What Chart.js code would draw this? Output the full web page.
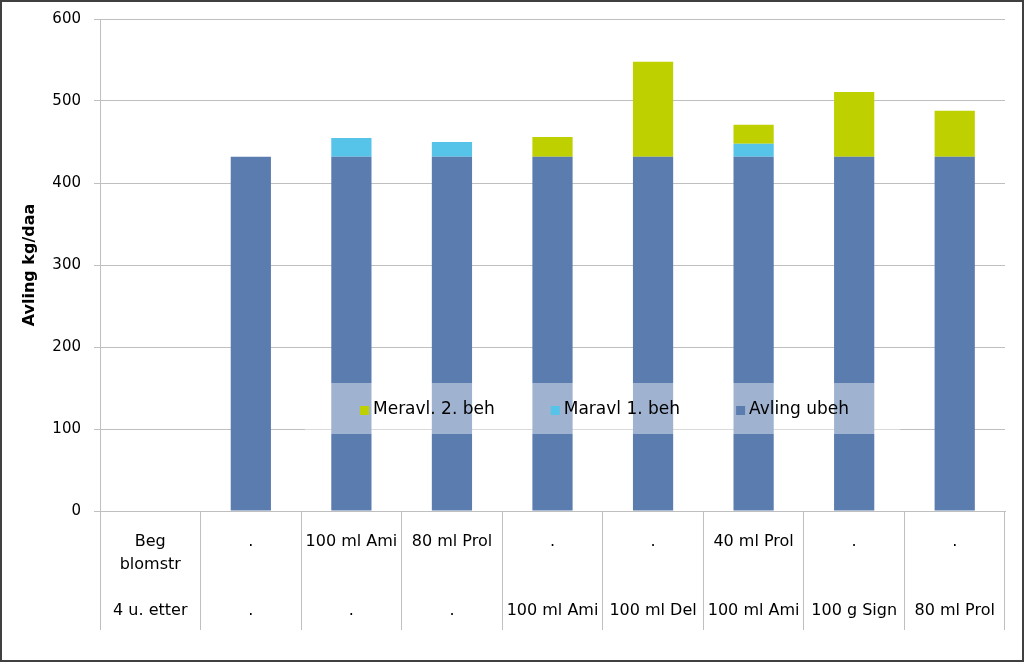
<!DOCTYPE html>
<html>
<head>
<meta charset="utf-8">
<script src="https://cdn.jsdelivr.net/npm/chart.js@4/dist/chart.umd.min.js"></script>
<style>
  html, body { margin: 0; padding: 0; background: #fff; }
  #wrap { width: 1024px; height: 662px; }
</style>
</head>
<body>
<div id="wrap"><canvas id="chart" width="1024" height="662"></canvas></div>
<script>
// behandlinger (two rows under each bar)
const behandling1 = ['Beg\nblomstr', '.', '100 ml Ami', '80 ml Prol', '.', '.', '40 ml Prol', '.', '.'];
const behandling2 = ['4 u. etter', '.', '.', '.', '100 ml Ami', '100 ml Del', '100 ml Ami', '100 g Sign', '80 ml Prol'];

// avling kg/daa
const avlingUbeh = [null, 432, 432, 432, 432, 432, 432, 432, 432];
const maravl1 = [null, null, 23, 18, null, null, 16, null, null];
const meravl2 = [null, null, null, null, 24, 116, 23, 79, 56];

const seriesNames = ['Avling ubeh', 'Maravl 1. beh', 'Meravl. 2. beh'];
const seriesColors = ['#5b7cae', '#56c3e8', '#bed000'];

const yMin = 0, yMax = 600, yStep = 100;

// build multi-line labels: row 1 on top, row 2 on the 4th line
const labels = behandling1.map((top, i) => {
    const lines = top.split('\n');
    while (lines.length < 3) lines.push('');
    lines.push(behandling2[i]);
    return lines;
});

const legendInPlot = {
    id: 'legendInPlot',
    afterDatasetsDraw(chart) {
        const { ctx, chartArea } = chart;
        const boxLeft = chartArea.left + 205;
        const boxTop = chartArea.top + 364;
        ctx.save();
        ctx.fillStyle = 'rgba(255,255,255,0.42)';
        ctx.fillRect(boxLeft, boxTop, 595, 51);

        ctx.font = '17px "DejaVu Sans"';
        ctx.textBaseline = 'middle';
        ctx.fillStyle = '#000';
        const cy = boxTop + 27;
        let x = chartArea.left + 260;
        [2, 1, 0].forEach(i => {
            ctx.fillStyle = seriesColors[i];
            ctx.fillRect(x, cy - 4, 9, 9);
            ctx.fillStyle = '#000';
            ctx.fillText(seriesNames[i], x + 13, cy);
            x += 13 + ctx.measureText(seriesNames[i]).width + 56;
        });
        ctx.restore();
    }
};

const frame = {
    id: 'frame',
    afterDraw(chart) {
        const ctx = chart.ctx;
        ctx.save();
        ctx.strokeStyle = '#404040';
        ctx.lineWidth = 2;
        ctx.strokeRect(1, 1, chart.width - 2, chart.height - 2);
        ctx.restore();
    }
};

new Chart(document.getElementById('chart'), {
    type: 'bar',
    data: {
        labels: labels,
        datasets: [
            { label: seriesNames[0], data: avlingUbeh, backgroundColor: seriesColors[0] },
            { label: seriesNames[1], data: maravl1, backgroundColor: seriesColors[1] },
            { label: seriesNames[2], data: meravl2, backgroundColor: seriesColors[2] }
        ]
    },
    options: {
        responsive: false,
        animation: false,
        layout: { padding: { top: 19, right: 19, left: 0, bottom: 0 } },
        datasets: { bar: { categoryPercentage: 1, barPercentage: 0.4 } },
        plugins: {
            legend: { display: false },
            tooltip: { enabled: false }
        },
        scales: {
            x: {
                stacked: true,
                grid: { drawOnChartArea: false, offset: true, tickLength: 119, color: '#bfbfbf' },
                border: { color: '#bfbfbf' },
                ticks: {
                    padding: -100,
                    color: '#000',
                    autoSkip: false,
                    maxRotation: 0,
                    font: { family: 'DejaVu Sans', size: 16, lineHeight: 23 / 16 }
                },
                afterFit(scale) {
                    scale.height = 151;
                    scale.paddingTop = 0;
                    scale.paddingBottom = 0;
                    scale.paddingLeft = 0;
                    scale.paddingRight = 0;
                }
            },
            y: {
                stacked: true,
                min: yMin,
                max: yMax,
                ticks: {
                    stepSize: yStep,
                    padding: 13,
                    color: '#000',
                    font: { family: 'DejaVu Sans', size: 15 }
                },
                grid: { color: '#bfbfbf', tickLength: 6 },
                border: { color: '#bfbfbf' },
                title: {
                    display: true,
                    text: 'Avling kg/daa',
                    color: '#000',
                    font: { family: 'DejaVu Sans', size: 16, weight: 'bold' },
                    padding: { top: 20, bottom: 0 }
                },
                afterFit(scale) {
                    scale.width = 100;
                    scale.paddingTop = 0;
                    scale.paddingBottom = 0;
                }
            }
        }
    },
    plugins: [legendInPlot, frame]
});
</script>
</body>
</html>
